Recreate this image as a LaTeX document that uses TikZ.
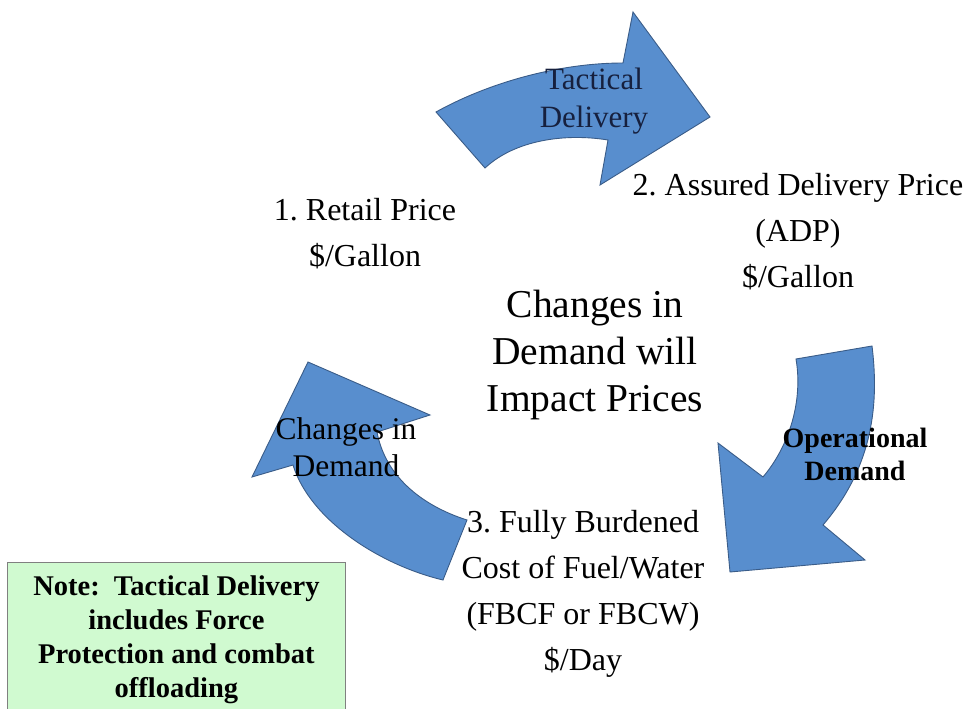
\documentclass[tikz,border=0pt]{standalone}
\usepackage{fontspec}
\setmainfont{Liberation Serif}
\usepackage{tikz}
\usetikzlibrary{positioning}
\frenchspacing
\definecolor{arrowblue}{RGB}{88,142,206}
\definecolor{arrowedge}{RGB}{58,92,136}
\definecolor{notegreen}{RGB}{208,250,208}
\definecolor{navytext}{RGB}{22,32,62}
\tikzstyle{cyclearrow} = [fill=arrowblue, draw=arrowedge, line width=0.9pt, line join=miter]
\tikzstyle{stage} = [align=center, inner sep=0pt, font=\fontsize{32}{46}\selectfont]
\tikzstyle{arrowlabel} = [align=center, inner sep=0pt, font=\fontsize{31}{38}\selectfont]
\tikzstyle{notebox} = [rectangle, draw=gray, fill=notegreen, line width=0.8pt, align=center, minimum width=338pt, minimum height=154pt, font=\bfseries\fontsize{28.5}{34}\selectfont]

\begin{document}
\begin{tikzpicture}[x=1pt, y=-1pt]
\useasboundingbox (0,0) rectangle (975,709);

% Top arrow: Tactical Delivery
\draw[cyclearrow] (436,112) .. controls (490,82) and (560,63) .. (623,63)
  -- (633,12) -- (710,117) -- (600,185) -- (608,140)
  .. controls (565,133) and (515,140) .. (485,168) -- cycle;

% Right arrow: Operational Demand
\draw[cyclearrow] (796,359) -- (872,346) .. controls (880,410) and (870,470) .. (823,525)
  -- (865,560) -- (730,572) -- (718,443) -- (763,477)
  .. controls (790,445) and (803,400) .. (796,359) -- cycle;

% Left arrow: Changes in Demand
\draw[cyclearrow] (308,362) -- (430,415) -- (377,432)
  .. controls (385,475) and (420,505) .. (467,520) -- (443,580)
  .. controls (380,565) and (310,520) .. (293,465) -- (252,477) -- cycle;

% Arrow labels
\node[arrowlabel, text=navytext] (tactical) at (594,101) {Tactical\\Delivery};
\node[align=center, inner sep=0pt, font=\bfseries\fontsize{28}{33}\selectfont] (operational) at (855,454) {Operational\\Demand};
\node[arrowlabel, font=\fontsize{31.5}{37}\selectfont] (changes) at (346,447) {Changes in\\Demand};

% Price stages
\node[stage] (retail) at (365,234) {1. Retail Price\\\$/Gallon};
\node[stage] (adp) at (798,232) {2. Assured Delivery Price\\(ADP)\\\$/Gallon};
\node[stage] (fbcf) at (583,594) {3. Fully Burdened\\Cost of Fuel/Water\\(FBCF or FBCW)\\\$/Day};

% Centre statement
\node[align=center, inner sep=0pt, font=\fontsize{39.5}{47}\selectfont] (impact) at (595,355) {Changes in\\Demand will\\Impact Prices};

% Note
\node[notebox, anchor=north west] (note) at (7,562) {Note:\ \ Tactical Delivery\\includes Force\\Protection and combat\\offloading};

\end{tikzpicture}
\end{document}
